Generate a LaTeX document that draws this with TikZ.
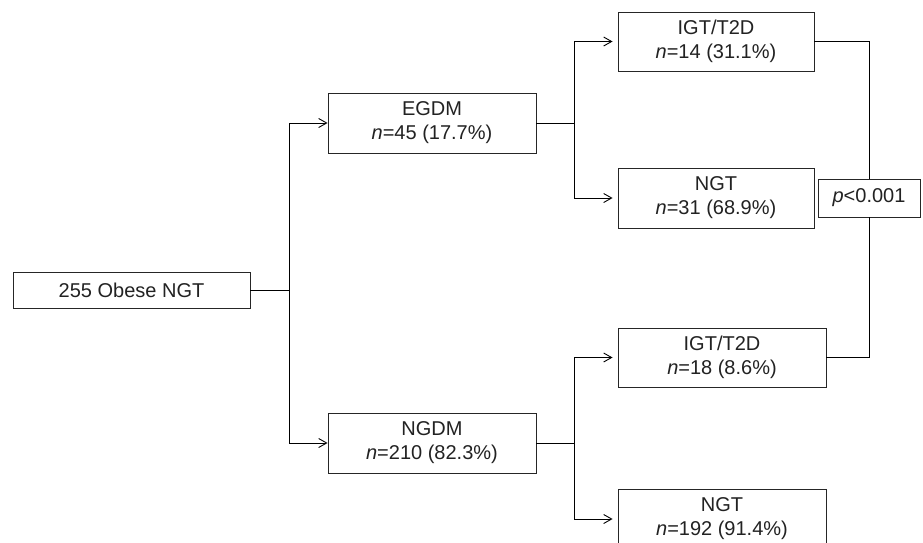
\documentclass[tikz,border=0pt]{standalone}
\usepackage{fontspec}
\setmainfont{Liberation Sans}
\usetikzlibrary{arrows.meta}
\definecolor{ink}{HTML}{222222}
\tikzset{
  box/.style={draw=black!85, line width=0.9pt, fill=white, text=ink, align=center,
    inner sep=0pt, font=\fontsize{20}{24}\selectfont},
  conn/.style={draw=black, line width=0.9pt},
  arr/.style={conn, -{Straight Barb[length=8pt,width=9pt,line width=0.9pt]}},
}
\begin{document}
\begin{tikzpicture}[x=1pt,y=-1pt]
\useasboundingbox (0,0) rectangle (923,542);
\clip (0,0) rectangle (923,542);
\fill[white] (0,0) rectangle (923,542);

\node[box, minimum width=237pt, minimum height=36pt] (root) at (131.5,290) {255 Obese NGT};
\node[box, minimum width=208pt, minimum height=60pt] (egdm) at (432,123) {EGDM\\\textit{n}=45 (17.7\%)};
\node[box, minimum width=208pt, minimum height=60pt] (ngdm) at (432,443) {NGDM\\\textit{n}=210 (82.3\%)};
\node[box, minimum width=196pt, minimum height=59pt] (igt1) at (716,41.5) {IGT/T2D\\\textit{n}=14 (31.1\%)};
\node[box, minimum width=196pt, minimum height=60pt] (ngt1) at (716,198) {NGT\\\textit{n}=31 (68.9\%)};
\node[box, minimum width=208pt, minimum height=59pt] (igt2) at (722,357.5) {IGT/T2D\\\textit{n}=18 (8.6\%)};
\node[box, minimum width=208pt, minimum height=60pt] (ngt2) at (722,519) {NGT\\\textit{n}=192 (91.4\%)};
\node[box, minimum width=102pt, minimum height=38pt] (pval) at (869,198) {\textit{p}<0.001};

% root split
\draw[conn] (root.east) -- ++(39,0) coordinate (j1);
\draw[arr] (j1) |- (egdm.west);
\draw[arr] (j1) |- (ngdm.west);

% EGDM split
\draw[conn] (egdm.east) -- ++(38,0) coordinate (j2);
\draw[arr, shorten >=5pt] (j2) |- (igt1.west);
\draw[arr, shorten >=5pt] (j2) |- (ngt1.west);

% NGDM split
\draw[conn] (ngdm.east) -- ++(38,0) coordinate (j3);
\draw[arr, shorten >=5pt] (j3) |- (igt2.west);
\draw[arr, shorten >=5pt] (j3) |- (ngt2.west);

% comparison bracket
\draw[conn] (igt1.east) -| (pval.north);
\draw[conn] (pval.south) |- (igt2.east);
\end{tikzpicture}
\end{document}
